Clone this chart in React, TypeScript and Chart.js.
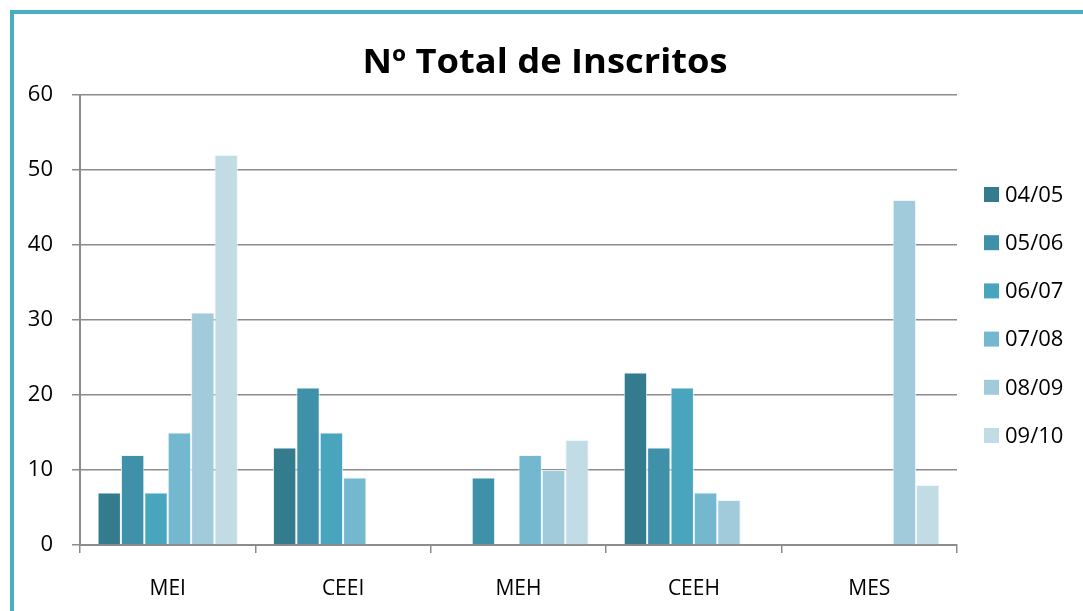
import React, { useEffect, useRef } from "react";
import { Chart, registerables } from "chart.js";

Chart.register(...registerables);

const categories = ["MEI", "CEEI", "MEH", "CEEH", "MES"];
const seriesLabels = ["04/05", "05/06", "06/07", "07/08", "08/09", "09/10"];
const s0405 = [7, 13, null, 23, null];
const s0506 = [12, 21, 9, 13, null];
const s0607 = [7, 15, null, 21, null];
const s0708 = [15, 9, 12, 7, null];
const s0809 = [31, null, 10, 6, 46];
const s0910 = [52, null, 14, null, 8];
const seriesValues = [s0405, s0506, s0607, s0708, s0809, s0910];
const seriesColors = ["#347b8d", "#3f90a9", "#48a5bd", "#73b8ce", "#a1cadb", "#c1dce5"];
const yTicks = [0, 10, 20, 30, 40, 50, 60];
const titleText = "Nº Total de Inscritos";

const FONT = "'Open Sans', sans-serif";

const customTitleAndLegend = {
  id: "customTitleAndLegend",
  afterDraw(chart: any) {
    const ctx = chart.ctx;
    // title
    ctx.save();
    ctx.font = `bold 34px ${FONT}`;
    ctx.fillStyle = "#000";
    ctx.textBaseline = "alphabetic";
    ctx.textAlign = "center";
    const w = ctx.measureText(titleText).width;
    const sx = Math.max(0.8, Math.min(1.3, 365 / w));
    ctx.translate(531, 58.5);
    ctx.scale(sx, 1);
    ctx.fillText(titleText, 0, 0);
    ctx.restore();
    // legend
    ctx.save();
    chart.data.datasets.forEach((ds: any, i: number) => {
      const cy = 180.5 + i * 48.2;
      ctx.fillStyle = ds.backgroundColor;
      ctx.fillRect(970, cy - 7.5, 15, 15);
      ctx.fillStyle = "#000";
      ctx.font = `22px ${FONT}`;
      ctx.textBaseline = "middle";
      ctx.textAlign = "left";
      ctx.fillText(ds.label, 991, cy + 1);
    });
    ctx.restore();
  },
};

export default function App() {
  const ref = useRef<HTMLCanvasElement>(null);
  useEffect(() => {
    if (!ref.current) return;
    const chart = new Chart(ref.current, {
      type: "bar",
      data: {
        labels: categories,
        datasets: seriesLabels.map((label, i) => ({
          label,
          data: seriesValues[i],
          backgroundColor: seriesColors[i],
          borderColor: "rgba(235,245,248,0.9)",
          borderWidth: 1,
          categoryPercentage: 0.8,
          barPercentage: 1.0,
        })),
      },
      options: {
        responsive: false,
        animation: false,
        layout: { padding: { left: 0, right: 126, top: 81, bottom: 0 } },
        plugins: {
          legend: { display: false },
          tooltip: { enabled: false },
          title: { display: false },
        },
        scales: {
          x: {
            grid: {
              offset: true,
              drawOnChartArea: false,
              drawTicks: true,
              tickLength: 8,
              color: "#8c8c8c",
              lineWidth: 1.5,
            },
            border: { color: "#8c8c8c", width: 2 },
            ticks: { color: "#000", font: { family: FONT, size: 21 }, padding: 23 },
            afterFit: (s: any) => {
              s.height = 66;
            },
          },
          y: {
            min: 0,
            max: 60,
            afterBuildTicks: (s: any) => {
              s.ticks = yTicks.map((v) => ({ value: v }));
            },
            grid: {
              color: "#8c8c8c",
              lineWidth: 1.5,
              tickLength: 8,
            },
            border: { color: "#8c8c8c", width: 2 },
            ticks: { color: "#000", font: { family: FONT, size: 22 }, padding: 19 },
            afterFit: (s: any) => {
              s.width = 66;
            },
          },
        },
      },
      plugins: [customTitleAndLegend],
    });
    return () => chart.destroy();
  }, []);

  return (
    <div
      style={{
        position: "fixed",
        left: 10,
        top: 10,
        right: 0,
        bottom: 0,
        borderLeft: "4px solid #4bacc6",
        borderTop: "4px solid #4bacc6",
        background: "#fff",
        overflow: "hidden",
      }}
    >
      <canvas ref={ref} width={1069} height={597} style={{ display: "block" }} />
    </div>
  );
}
